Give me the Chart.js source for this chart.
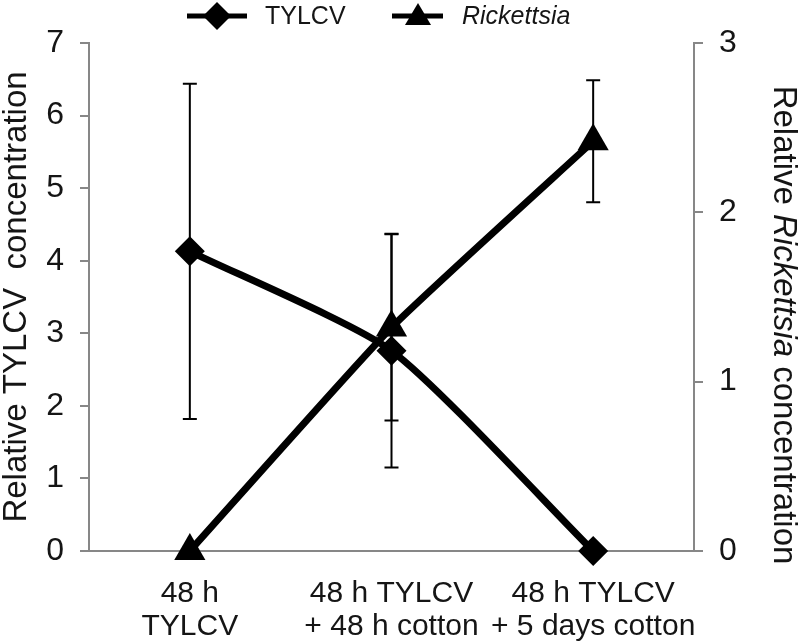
<!DOCTYPE html>
<html>
<head>
    <meta charset="utf-8">
    <title>TYLCV and Rickettsia</title>
    <script src="https://cdn.jsdelivr.net/npm/chart.js@4.4.0/dist/chart.umd.min.js"></script>
    <style>
        html, body { margin: 0; padding: 0; background: #fff; }
        #wrap { width: 800px; height: 644px; }
    </style>
</head>
<body>
<div id="wrap">
    <canvas id="lineChart" width="800" height="644"></canvas>
</div>

<script>
  // data
  const categories = [['48 h', 'TYLCV'], ['48 h TYLCV', '+ 48 h cotton'], ['48 h TYLCV', '+ 5 days cotton']]
  const tylcv = [4.13, 2.76, 0]
  const tylcvErr = [2.31, 1.61, 0]
  const rickettsia = [0, 1.32, 2.42]
  const rickettsiaErr = [0, 0.55, 0.36]
  const leftTicks = [0, 1, 2, 3, 4, 5, 6, 7]
  const rightTicks = [0, 1, 2, 3]

  const FONT = '"Liberation Sans", Arial, sans-serif'
  const AXIS = '#878787'
  const TEXT = '#151515'

  // vertical error bars, drawn under the markers
  const errorBars = {
    id: 'errorBars',
    beforeDatasetsDraw(chart) {
      const ctx = chart.ctx
      const x = chart.scales.x
      ctx.save()
      ctx.strokeStyle = '#000'
      ctx.lineWidth = 2
      chart.data.datasets.forEach(ds => {
        const y = chart.scales[ds.yAxisID]
        ds.data.forEach((v, i) => {
          const e = ds.errors[i]
          if (!e) return
          const px = x.getPixelForValue(i)
          const top = y.getPixelForValue(v + e)
          const bot = y.getPixelForValue(v - e)
          ctx.beginPath()
          ctx.moveTo(px, top); ctx.lineTo(px, bot)
          ctx.moveTo(px - 7, top); ctx.lineTo(px + 7, top)
          ctx.moveTo(px - 7, bot); ctx.lineTo(px + 7, bot)
          ctx.stroke()
        })
      })
      ctx.restore()
    }
  }

  // legend and right title need italic "Rickettsia", so they are drawn by hand
  const extras = {
    id: 'extras',
    afterDraw(chart) {
      const ctx = chart.ctx
      ctx.save()
      ctx.fillStyle = '#000'
      ctx.strokeStyle = '#000'
      ctx.textBaseline = 'middle'

      // legend
      const ly = 16
      ctx.lineWidth = 5
      ctx.beginPath(); ctx.moveTo(187, ly); ctx.lineTo(247, ly); ctx.stroke()
      ctx.beginPath()
      ctx.moveTo(217, ly - 14); ctx.lineTo(231, ly); ctx.lineTo(217, ly + 14); ctx.lineTo(203, ly)
      ctx.closePath(); ctx.fill()
      ctx.beginPath(); ctx.moveTo(392, ly); ctx.lineTo(443, ly); ctx.stroke()
      ctx.beginPath()
      ctx.moveTo(418, ly - 13); ctx.lineTo(431, ly + 9); ctx.lineTo(405, ly + 9)
      ctx.closePath(); ctx.fill()
      ctx.fillStyle = TEXT
      ctx.font = '25px ' + FONT
      ctx.fillText('TYLCV', 265, ly + 1)
      ctx.font = 'italic 25px ' + FONT
      ctx.fillText('Rickettsia', 462, ly + 1)

      // right axis title
      const parts = [['Relative ', ''], ['Rickettsia', 'italic '], [' concentration', '']]
      const size = 33
      let total = 0
      parts.forEach(p => { ctx.font = p[1] + size + 'px ' + FONT; total += ctx.measureText(p[0]).width })
      const ca = chart.chartArea
      ctx.translate(783, (ca.top + ca.bottom) / 2 + 28)
      ctx.rotate(Math.PI / 2)
      let cx = -total / 2
      parts.forEach(p => {
        ctx.font = p[1] + size + 'px ' + FONT
        ctx.fillText(p[0], cx, 0)
        cx += ctx.measureText(p[0]).width
      })
      ctx.restore()
    }
  }

  new Chart(document.getElementById('lineChart'), {
    type: 'line',
    data: {
      labels: categories,
      datasets: [
        {
          label: 'TYLCV',
          data: tylcv,
          errors: tylcvErr,
          yAxisID: 'y',
          borderColor: '#000',
          backgroundColor: '#000',
          borderWidth: 7,
          tension: 0.2,
          pointStyle: 'rectRot',
          pointRadius: 15,
          pointBorderWidth: 0,
          clip: false
        },
        {
          label: 'Rickettsia',
          data: rickettsia,
          errors: rickettsiaErr,
          yAxisID: 'y1',
          borderColor: '#000',
          backgroundColor: '#000',
          borderWidth: 7,
          tension: 0.15,
          pointStyle: 'triangle',
          pointRadius: 18,
          pointBorderWidth: 0,
          clip: false
        }
      ]
    },
    options: {
      responsive: false,
      animation: false,
      events: [],
      layout: { padding: { top: 43, left: 0, right: 0, bottom: 0 } },
      plugins: { legend: { display: false }, tooltip: { enabled: false } },
      scales: {
        x: {
          offset: true,
          grid: { display: false },
          border: { display: true, color: AXIS, width: 2 },
          ticks: { color: TEXT, font: { family: FONT, size: 30, lineHeight: 1.1 }, padding: 18, maxRotation: 0, autoSkip: false },
          afterFit(s) { s.height = 93 }
        },
        y: {
          position: 'left',
          min: 0,
          max: 7,
          afterBuildTicks(s) { s.ticks = leftTicks.map(v => ({ value: v })) },
          grid: { drawOnChartArea: false, drawTicks: true, tickLength: 9, color: AXIS, lineWidth: 2 },
          border: { display: true, color: AXIS, width: 2 },
          ticks: { color: TEXT, font: { family: FONT, size: 32 }, padding: 16 },
          title: { display: true, text: 'Relative TYLCV  concentration', color: TEXT, font: { family: FONT, size: 33, lineHeight: 1.0 }, padding: 0 },
          afterFit(s) { s.width = 89 }
        },
        y1: {
          position: 'right',
          min: 0,
          max: 3,
          afterBuildTicks(s) { s.ticks = rightTicks.map(v => ({ value: v })) },
          grid: { drawOnChartArea: false, drawTicks: true, tickLength: 9, color: AXIS, lineWidth: 2 },
          border: { display: true, color: AXIS, width: 2 },
          ticks: { color: TEXT, font: { family: FONT, size: 32 }, padding: 16 },
          afterFit(s) { s.width = 106 }
        }
      }
    },
    plugins: [errorBars, extras]
  })
</script>
</body>
</html>
